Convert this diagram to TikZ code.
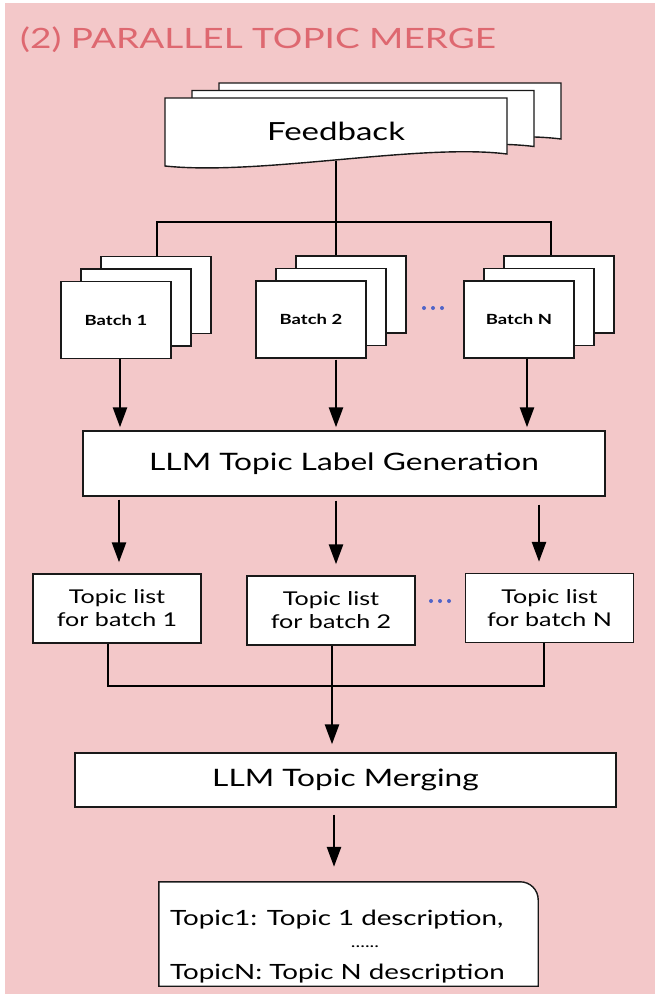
\documentclass[tikz,border=0pt]{standalone}
\usepackage{fontspec}
\setmainfont{Lato}[FakeStretch=1.32]
\usetikzlibrary{arrows.meta,calc,shadows}
\definecolor{bgpink}{RGB}{243,200,201}
\definecolor{titlered}{RGB}{222,104,112}
\definecolor{dotblue}{RGB}{80,100,200}
\definecolor{edge}{RGB}{25,25,25}

\begin{document}
\begin{tikzpicture}[x=1pt,y=-1pt,
  box/.style={draw=edge,line width=1.4pt,fill=white,inner sep=0pt},
  stack/.style={
    general shadow={shadow xshift=40pt,shadow yshift=25pt,draw=edge,line width=1.4pt,fill=white},
    general shadow={shadow xshift=20pt,shadow yshift=12.5pt,draw=edge,line width=1.4pt,fill=white}},
  batchbox/.style={box,stack,minimum width=110pt,minimum height=77pt,
    font=\bfseries\fontsize{14}{16}\selectfont},
  listbox/.style={box,minimum width=168pt,minimum height=69pt,align=center,
    font=\fontsize{19}{23}\selectfont},
  wide/.style={box,font=\fontsize{24}{28}\selectfont},
  link/.style={line width=2.6pt,black},
  arr/.style={link,-{Triangle[width=14pt,length=20pt]}},
  dots/.style={fill=dotblue}
]
\useasboundingbox (0,0) rectangle (659,994);
\fill[white] (0,0) rectangle (659,994);
\fill[bgpink] (5,3) rectangle (655,994);

% heading
\node[anchor=base west,text=titlered,inner sep=0pt,
  font=\fontsize{28}{32}\selectfont] (title) at (20,48) {(2) PARALLEL TOPIC MERGE};

% stacked feedback documents, back to front
\foreach \d in {2,1,0}{
  \filldraw[draw=edge,line width=1.4pt,fill=white,shift={(27*\d,-7.5*\d)}]
    (165,98) -- (507,98) -- (507,154)
    .. controls (420,143) and (260,176) .. (165,166) -- cycle;
}
\node[font=\fontsize{25}{30}\selectfont] (fb) at (336,131) {Feedback};
\coordinate (fbfoot) at (336,161);

% batches
\node[batchbox] (b1) at (116,320) {Batch 1};
\node[batchbox] (b2) at (311,319.5) {Batch 2};
\node[batchbox] (bN) at (519,319.5) {Batch N};
\foreach \i in {0,1,2} \fill[dots] (424+9*\i,308) circle (2pt);

% distribution bus
\coordinate (x1) at (157,222);
\coordinate (x2) at (336,222);
\coordinate (x3) at (551,222);
\draw[link] (fbfoot) -- (x2);
\draw[link,line join=miter] ($(x1 |- b1.north)+(0,-25)$) -- (x1) -- (x3)
  -- ($(x3 |- bN.north)+(0,-25)$);
\draw[link] (x2) -- ($(x2 |- b2.north)+(0,-25)$);

% label generation
\node[wide,minimum width=522pt,minimum height=65pt] (llm) at (344,463.5)
  {LLM Topic Label Generation};
\coordinate (a1) at (120,0);
\coordinate (a2) at (336,0);
\coordinate (a3) at (527,0);
\draw[arr,shorten >=3pt] (b1.south -| a1) -- (llm.north -| a1);
\draw[arr,shorten >=3pt,shorten <=1pt] (b2.south -| a2) -- (llm.north -| a2);
\draw[arr,shorten >=3pt] (bN.south -| a3) -- (llm.north -| a3);

% topic lists per batch
\node[listbox] (t1) at (117,608.5) {Topic list\\for batch 1};
\node[listbox] (t2) at (331,610.5) {Topic list\\for batch 2};
\node[listbox] (t3) at (549.5,608) {Topic list\\for batch N};
\foreach \i in {0,1,2} \fill[dots] (431+9*\i,601) circle (2pt);
\coordinate (g1) at (119,0);
\coordinate (g2) at (336,0);
\coordinate (g3) at (539,0);
\draw[arr,shorten <=3pt,shorten >=11pt] (llm.south -| g1) -- (t1.north -| g1);
\draw[arr,shorten <=4pt,shorten >=11pt] (llm.south -| g2) -- (t2.north -| g2);
\draw[arr,shorten <=8pt,shorten >=11pt] (llm.south -| g3) -- (t3.north -| g3);

% collecting bus
\coordinate (m1) at (108,686);
\coordinate (m2) at (332,686);
\coordinate (m3) at (544,686);
\draw[link,line join=miter] (t1.south -| m1) -- (m1) -- (m3) -- (t3.south -| m3);
\draw[link] (t2.south -| m2) -- (m2);

% merging
\node[wide,minimum width=541pt,minimum height=54pt] (merge) at (345.5,780)
  {LLM Topic Merging};
\draw[arr,shorten >=8pt] (m2) -- (merge.north -| m2);

% merged result
\node[inner sep=0pt,minimum width=379pt,minimum height=104pt] (res) at (348.5,934) {};
\filldraw[draw=edge,line width=1.4pt,fill=white]
  (res.south west) -- (res.north west) -- ($(res.north east)+(-18,0)$)
  .. controls ($(res.north east)+(-8,0)$) and ($(res.north east)+(0,8)$)
  .. ($(res.north east)+(0,18)$) -- (res.south east) -- cycle;
\coordinate (f) at (334,0);
\draw[arr,shorten <=7pt,shorten >=15pt] (merge.south -| f) -- (res.north -| f);
\node[anchor=west,inner sep=0pt,font=\fontsize{21}{24}\selectfont] (r1) at (170,920)
  {Topic1: Topic 1 description,};
\node[inner sep=0pt,font=\fontsize{15}{16}\selectfont] (r2) at (365,947) {......};
\node[anchor=west,inner sep=0pt,font=\fontsize{21}{24}\selectfont] (rN) at (170,974)
  {TopicN: Topic N description};
\end{tikzpicture}
\end{document}
